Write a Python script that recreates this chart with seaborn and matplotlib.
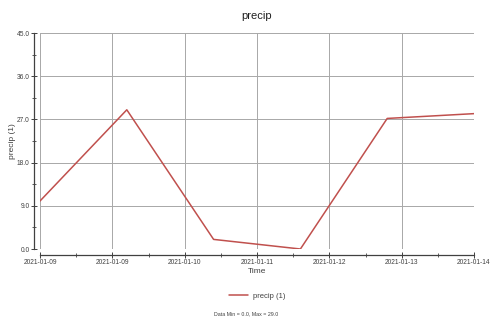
import matplotlib
matplotlib.use("Agg")
import matplotlib.pyplot as plt
import matplotlib.dates as mdates
import numpy as np
import pandas as pd
import seaborn as sns

# Daily precipitation readings
dates = ["2021-01-09", "2021-01-10", "2021-01-11", "2021-01-12", "2021-01-13", "2021-01-14"]
precip = [10.0, 29.0, 2.0, 0.0, 27.2, 28.2]
series_label = "precip (1)"
y_ticks = [0.0, 9.0, 18.0, 27.0, 36.0, 45.0]

df = pd.DataFrame({"Time": pd.to_datetime(dates), "value": precip, "series": series_label})

sns.set_style("white")
plt.rcParams["font.family"] = ["Liberation Sans", "DejaVu Sans"]

fig = plt.figure(figsize=(4.92, 3.22), dpi=100)
ax = fig.add_axes([40 / 492, 1 - 249 / 322, 434 / 492, 216 / 322])

sns.lineplot(data=df, x="Time", y="value", hue="series", palette=["#c0504d"],
             linewidth=1.1, ax=ax, legend=True)

# axis ranges and ticks
start = df["Time"].min()
end = df["Time"].max()
ax.set_xlim(start, end)
ax.set_ylim(0, 45)
ax.set_yticks(y_ticks)
ax.set_yticklabels([f"{v:.1f}" for v in y_ticks])
ax.set_yticks(np.arange(4.5, 45, 9), minor=True)

major_x = pd.date_range(start, end, freq="20h")
minor_x = pd.date_range(start + pd.Timedelta(hours=10), end, freq="20h")
ax.set_xticks(major_x)
ax.set_xticks(minor_x, minor=True)
ax.xaxis.set_major_formatter(mdates.DateFormatter("%Y-%m-%d"))

ax.grid(True, which="major", color="#a8a8a8", linewidth=0.7)
ax.set_axisbelow(True)

for side in ["top", "right"]:
    ax.spines[side].set_visible(False)
for side in ["left", "bottom"]:
    ax.spines[side].set_position(("outward", 4))
    ax.spines[side].set_color("#404040")
    ax.spines[side].set_linewidth(0.9)

ax.tick_params(axis="both", which="major", labelsize=4.8, colors="#404040",
               direction="inout", length=4, width=0.7, pad=1.5)
ax.tick_params(axis="both", which="minor", direction="inout", length=2.5,
               width=0.6, colors="#404040")
ax.tick_params(axis="x", which="both", bottom=True)
ax.tick_params(axis="y", which="both", left=True)

ax.set_xlabel("Time", fontsize=6, color="#404040", labelpad=1)
ax.set_ylabel("precip (1)", fontsize=6, color="#404040", labelpad=0.5)
ax.set_title("precip", fontsize=8, color="#202020", pad=10)

ax.legend(loc="upper center", bbox_to_anchor=(0.5, -0.17), frameon=False,
          fontsize=5.5, handlelength=2.6, handletextpad=0.6, labelcolor="#404040")

fig.text(0.5, 1 - 314 / 322, "Data Min = 0.0, Max = 29.0", ha="center", va="center",
         fontsize=3.8, color="#404040")

fig.savefig("out.png", dpi=100, facecolor="white")
